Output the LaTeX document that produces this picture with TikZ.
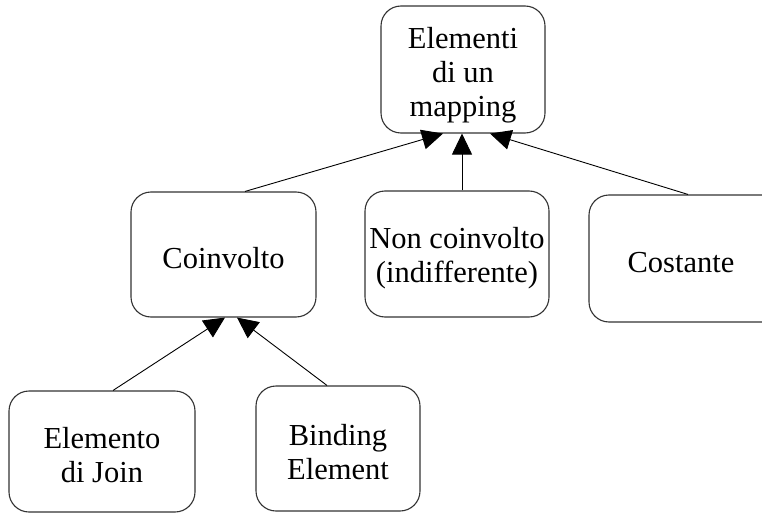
\documentclass[tikz,border=0pt]{standalone}
\usepackage{fontspec}
\setmainfont{Liberation Serif}
\usetikzlibrary{arrows.meta,calc}
\begin{document}
\begin{tikzpicture}[x=1pt,y=-1pt,
  box/.style={draw=black!80, line width=1.1pt, rounded corners=20pt,
    inner sep=0pt},
  lbl/.style={align=center, inner sep=0pt, yshift=-4pt,
    font=\fontsize{30.5}{34}\selectfont},
  link/.style={draw=black, line width=0.9pt,
    -{Triangle[length=21pt,width=20pt]}}]
\useasboundingbox (0,0) rectangle (762,513);
\fill[white] (0,0) rectangle (762,513);

% tree of mapping elements
\node[box, minimum width=164pt, minimum height=127pt,
  label={[lbl,yshift=-2pt]center:{Elementi\\di un\\mapping}}] (top) at (463,69.5) {};
\node[box, minimum width=185pt, minimum height=125pt,
  label={[lbl]center:Coinvolto}] (coinv) at (223.5,254.5) {};
\node[box, minimum width=184pt, minimum height=126pt,
  label={[lbl]center:{Non coinvolto\\(indifferente)}}] (non) at (457,254) {};
\node[box, minimum width=196pt, minimum height=127pt,
  label={[lbl,xshift=-6pt]center:Costante}] (cost) at (687,258.5) {};
\node[box, minimum width=186pt, minimum height=121pt,
  label={[lbl]center:{Elemento\\di Join}}] (join) at (102,451.5) {};
\node[box, minimum width=164pt, minimum height=125pt,
  label={[lbl]center:{Binding\\Element}}] (bind) at (338,448.5) {};

% generalisation arrows
\draw[link] ($(coinv.north)+(21.5,0)$) -- ($(top.south)+(-20,0)$);
\draw[link] ($(non.north)+(5,0)$) -- ($(top.south)+(-1,0)$);
\draw[link] ($(cost.north)+(1,0)$) -- ($(top.south)+(27,0)$);
\draw[link] ($(join.north)+(11,0)$) -- ($(coinv.south)+(1.5,0)$);
\draw[link] ($(bind.north)+(-11,0)$) -- ($(coinv.south)+(13.5,0)$);
\end{tikzpicture}
\end{document}
